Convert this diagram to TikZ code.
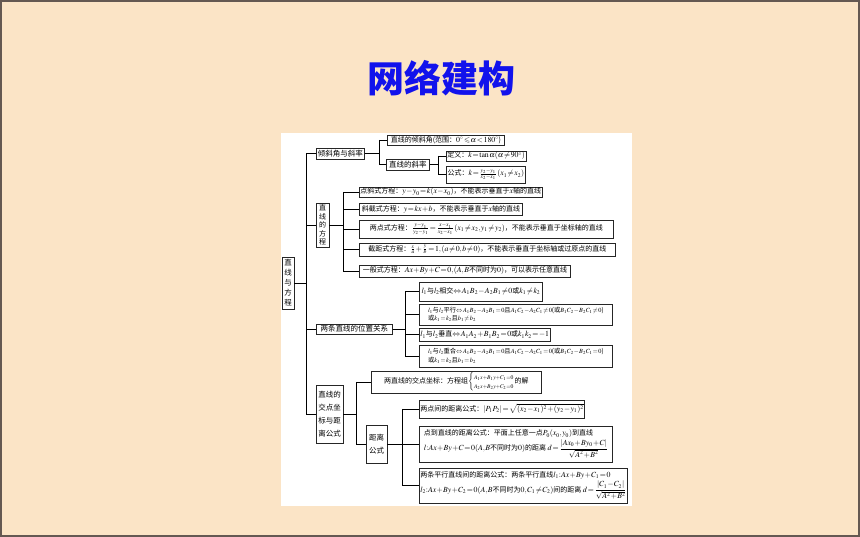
\documentclass[tikz,border=0pt]{standalone}
\usepackage{amsmath,amssymb}
\usepackage{mathptmx}
\usepackage{fontspec}
\setmainfont{Noto Sans CJK SC}
\DeclareMathSizes{7}{7.8}{5.6}{4.6}
\definecolor{cream}{RGB}{251,228,198}
\definecolor{framec}{RGB}{100,88,82}
\definecolor{titleblue}{RGB}{18,18,236}
\thinmuskip=1mu
\medmuskip=1mu plus 1mu
\thickmuskip=1.5mu plus 1mu
\tikzset{
  box/.style={draw=black!85, line width=0.8pt, fill=white, inner sep=1pt,
              font=\fontsize{7}{9}\selectfont, align=center, anchor=west},
  vbox/.style={box, anchor=center},
  link/.style={draw=black, line width=0.7pt},
}
\begin{document}
\begin{tikzpicture}[x=1pt,y=-1pt]
\useasboundingbox (0,0) rectangle (860,537);
\fill[cream] (0,0) rectangle (860,537);
\draw[framec, line width=1.6pt] (0.8,0.8) rectangle (859.2,536.2);
\fill[white] (281,133) rectangle (632,506);
\node[font=\fontsize{37}{37}\selectfont\bfseries, text=titleblue] (title) at (441,78) {网络建构};

% root and level 1
\node[vbox, minimum width=12pt, minimum height=52pt, font=\fontsize{7.5}{10}\selectfont] (root) at (288,283) {直\\线\\与\\方\\程};
\node[box, minimum width=48pt, minimum height=11pt, font=\fontsize{7.5}{9}\selectfont] (p1) at (316,153.5) {倾斜角与斜率};
\node[vbox, minimum width=13pt, minimum height=44pt, font=\fontsize{7}{8.6}\selectfont] (p2) at (322.5,225) {直\\线\\的\\方\\程};
\node[box, minimum width=76pt, minimum height=10pt, font=\fontsize{7.5}{9}\selectfont] (p3) at (316,329) {两条直线的位置关系};
\node[vbox, minimum width=27pt, minimum height=58pt, font=\fontsize{7.5}{13}\selectfont] (p4) at (329.5,414) {直线的\\交点坐\\标与距\\离公式};

% branch 1
\node[box, minimum width=117pt, minimum height=10pt] (a1) at (387,140) {直线的倾斜角(范围：$0^\circ\leqslant\alpha<180^\circ$)};
\node[box, minimum width=43pt, minimum height=11pt, font=\fontsize{7.5}{9}\selectfont] (a2) at (386,164.5) {直线的斜率};
\node[box, minimum width=75pt, minimum height=10pt] (a21) at (446,156) {定义：$k=\tan\alpha(\alpha\neq 90^\circ)$};
\node[box, minimum width=79pt, minimum height=17pt] (a22) at (446,174.5) {公式：$k=\frac{y_2-y_1}{x_2-x_1}\,(x_1\neq x_2)$};

% branch 2
\node[box, minimum width=180pt, minimum height=10pt] (b1) at (359,192) {点斜式方程：$y-y_0=k(x-x_0)$，不能表示垂直于$x$轴的直线};
\node[box, minimum width=163pt, minimum height=12pt] (b2) at (359,209) {斜截式方程：$y=kx+b$，不能表示垂直于$x$轴的直线};
\node[box, minimum width=254pt, minimum height=18pt] (b3) at (359,229) {两点式方程：$\frac{y-y_1}{y_2-y_1}=\frac{x-x_1}{x_2-x_1}\,(x_1\neq x_2,y_1\neq y_2)$，不能表示垂直于坐标轴的直线};
\node[box, minimum width=256pt, minimum height=13pt] (b4) at (359,249.5) {截距式方程：$\frac{x}{a}+\frac{y}{b}=1,(a\neq 0,b\neq 0)$，不能表示垂直于坐标轴或过原点的直线};
\node[box, minimum width=211pt, minimum height=12pt] (b5) at (359,271) {一般式方程：$Ax+By+C=0,(A,B$不同时为$0)$，可以表示任意直线};

% branch 3
\node[box, minimum width=123pt, minimum height=19pt] (c1) at (419,291.5) {$l_1$与$l_2$相交$\Leftrightarrow A_1B_2-A_2B_1\neq 0$或$k_1\neq k_2$};
\node[box, minimum width=193pt, minimum height=21pt, align=left, font=\fontsize{6.3}{8.5}\selectfont] (c2) at (419,314.5) {$l_1$与$l_2$平行$\Leftrightarrow A_1B_2-A_2B_1=0$且$A_1C_2-A_2C_1\neq 0$(或$B_1C_2-B_2C_1\neq 0$)\\或$k_1=k_2$且$b_1\neq b_2$};
\node[box, minimum width=126pt, minimum height=13pt] (c3) at (419,334.5) {$l_1$与$l_2$垂直$\Leftrightarrow A_1A_2+B_1B_2=0$或$k_1k_2=-1$};
\node[box, minimum width=193pt, minimum height=22pt, align=left, font=\fontsize{6.3}{8.5}\selectfont] (c4) at (419,356) {$l_1$与$l_2$重合$\Leftrightarrow A_1B_2-A_2B_1=0$且$A_1C_2-A_2C_1=0$(或$B_1C_2-B_2C_1=0$)\\或$k_1=k_2$且$b_1=b_2$};

% branch 4
\node[box, minimum width=170pt, minimum height=22pt] (d1) at (371,382) {两直线的交点坐标：方程组$\left\{\begin{array}{@{}l@{}}\scriptstyle A_1x+B_1y+C_1=0\\ \scriptstyle A_2x+B_2y+C_2=0\end{array}\right.$的解};
\node[vbox, minimum width=21pt, minimum height=38pt, font=\fontsize{7.5}{13}\selectfont] (d2) at (376.5,444) {距离\\公式};
\node[box, minimum width=153pt, minimum height=18pt] (e1) at (419,409) {两点间的距离公式：$|P_1P_2|=\sqrt{(x_2-x_1)^2+(y_2-y_1)^2}$};
\node[box, minimum width=193pt, minimum height=36pt, align=left] (e2) at (419,444) {点到直线的距离公式：平面上任意一点$P_0(x_0,y_0)$到直线\\[1pt] $l{:}Ax+By+C=0(A,B$不同时为$0)$的距离 $d=\dfrac{|Ax_0+By_0+C|}{\sqrt{A^2+B^2}}$};
\node[box, minimum width=203pt, minimum height=35pt, align=left] (e3) at (419,485.5) {两条平行直线间的距离公式：两条平行直线$l_1{:}Ax+By+C_1=0$\\[1pt] $l_2{:}Ax+By+C_2=0(A,B$不同时为$0,C_1\neq C_2)$间的距离 $d=\dfrac{|C_1-C_2|}{\sqrt{A^2+B^2}}$};

% junction columns
\coordinate (j0) at (306,0);
\coordinate (j1) at (379,0);
\coordinate (j2) at (438,0);
\coordinate (j3) at (343,0);
\coordinate (j4) at (405,0);
\coordinate (j5) at (356,0);
\coordinate (j6) at (402,0);

% trunk
\draw[link] (root.east) -- (root.east -| j0);
\draw[link] (p1.west -| j0) -- (p4.west -| j0);
\foreach \n in {p1,p2,p3,p4} \draw[link] (\n.west -| j0) -- (\n.west);

% p1 branch
\draw[link] (p1.east) -- (p1.east -| j1);
\draw[link] (a1.west -| j1) -- (a2.west -| j1);
\foreach \n in {a1,a2} \draw[link] (\n.west -| j1) -- (\n.west);
\draw[link] (a2.east) -- (a2.east -| j2);
\draw[link] (a21.west -| j2) -- (a22.west -| j2);
\foreach \n in {a21,a22} \draw[link] (\n.west -| j2) -- (\n.west);

% p2 branch
\draw[link] (p2.east) -- (p2.east -| j3);
\draw[link] (b1.west -| j3) -- (b5.west -| j3);
\foreach \n in {b1,b2,b3,b4,b5} \draw[link] (\n.west -| j3) -- (\n.west);

% p3 branch
\draw[link] (p3.east) -- (p3.east -| j4);
\draw[link] (c1.west -| j4) -- (c4.west -| j4);
\foreach \n in {c1,c2,c3,c4} \draw[link] (\n.west -| j4) -- (\n.west);

% p4 branch
\draw[link] (p4.east) -- (p4.east -| j5);
\draw[link] (d1.west -| j5) -- (d2.west -| j5);
\foreach \n in {d1,d2} \draw[link] (\n.west -| j5) -- (\n.west);
\draw[link] (d2.east) -- (d2.east -| j6);
\draw[link] (e1.west -| j6) -- (e3.west -| j6);
\foreach \n in {e1,e2,e3} \draw[link] (\n.west -| j6) -- (\n.west);
\end{tikzpicture}
\end{document}
